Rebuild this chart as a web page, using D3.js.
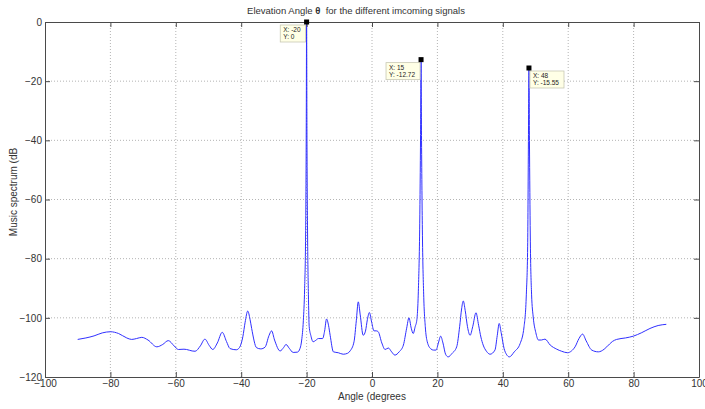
<!DOCTYPE html>
<html>
<head>
<meta charset="utf-8">
<script src="https://cdn.jsdelivr.net/npm/d3@7/dist/d3.min.js"></script>
<style>
  html, body { margin: 0; padding: 0; background: #fff; }
  svg { display: block; }
  text { font-family: "Liberation Sans", Arial, Helvetica, sans-serif; }
</style>
</head>
<body>
<svg id="chart" width="705" height="409"></svg>
<script>
// MUSIC pseudo-spectrum sampled over the scan angle (degrees) and level (dB)
const angles = [
  -90, -87.5, -85, -82.5, -80, -77.5, -75, -73.5, -72, -70.4, -68.5, -65.8, -64, -62.3,
  -60.5, -59.2, -57.5, -56.7, -55, -54.1, -52.5, -51.1, -49.8, -48.7, -47.3, -45.8, -44.5,
  -43.4, -41.5, -40.5, -39.5, -38.8, -38.0, -37.3, -36.8, -35.3, -34, -32.7, -31.5, -30.7,
  -29.8, -28.1, -27, -26.3, -25.3, -24.1, -22.8, -22, -21.5, -21.0, -20.6, -20.3, -20.1,
  -20, -19.9, -19.7, -19.45, -19.2, -18.7, -18.0, -17.2, -16.4, -15.1, -14.5, -13.9, -13.3,
  -12.8, -11.8, -10.3, -8.8, -7.5, -6.7, -5.5, -4.8, -4.2, -3.6, -2.7, -2.0, -1.4, -0.8,
  -0.1, 0.6, 1.3, 1.9, 3, 4.0, 5.0, 6, 7.0, 8.3, 9.6, 10.6, 11.3, 12, 12.6, 13.2, 13.7,
  14.2, 14.6, 14.85, 15, 15.15, 15.4, 15.8, 16.3, 16.9, 18, 18.8, 19.6, 20.3, 21.0, 21.7,
  22.5, 23.3, 24.5, 25.9, 26.8, 27.4, 27.9, 28.5, 29.2, 30.0, 30.8, 31.8, 32.6, 33.3, 34.0,
  35, 36.1, 37.6, 38.3, 38.9, 39.5, 40.4, 41.2, 42.0, 43.5, 45.3, 46.5, 47.2, 47.6, 47.85,
  48, 48.15, 48.4, 48.8, 49.3, 50.1, 50.9, 51.8, 52.9, 54.5, 56.5, 58, 59.8, 61, 62.1,
  63.3, 64.4, 65.5, 67.2, 69.2, 71, 71.8, 73.5, 74.8, 77.5, 79.9, 82.5, 85.0, 87.5, 90
];
const spectrum = [
  -107.3, -106.8, -106.1, -105.1, -104.7, -105.3, -106.8, -107.3, -107.0, -106.6, -107.5,
  -109.8, -109.0, -107.7, -109.5, -110.7, -110.6, -110.7, -111.2, -111.3, -109.5, -107.2,
  -109.3, -110.7, -108.5, -104.9, -108.0, -110.4, -110.8, -110.0, -106.4, -101.5, -97.7,
  -100.5, -103.6, -110.1, -110.5, -109.9, -106.0, -104.4, -107.5, -111.2, -110.0, -109.0,
  -110.3, -111.7, -111.6, -110.3, -107.5, -101, -90, -72, -34, 0, -36, -72, -92, -103,
  -106, -108.1, -107.6, -107.0, -107.0, -104.5, -100.4, -102.5, -105.9, -111.5, -111.8,
  -112.3, -112.0, -111.2, -108.1, -101, -94.6, -99, -105.9, -104.5, -100.5, -98.2, -101.5,
  -104.4, -104.4, -104.7, -108.5, -110.7, -110.2, -111.5, -112.6, -111.5, -109.2, -103.5,
  -100.0, -103.5, -105.3, -103, -100.8, -90, -68, -38, -12.72, -40, -70, -92, -103, -108.1,
  -110.5, -110.9, -110.9, -108.5, -106.2, -108.5, -112.3, -113.2, -112, -109.8, -103, -97,
  -94.3, -97.5, -103, -105.9, -103, -98.3, -102.5, -106.5, -109.2, -111.3, -112.3, -110.9,
  -106, -101.9, -105, -110.4, -112.5, -113.2, -111.5, -108.7, -103, -92, -76, -38, -15.55,
  -40, -72, -92, -99.7, -105, -107.5, -107.5, -107.2, -109.2, -110.6, -111.3, -111.8,
  -111.2, -109.8, -107, -105.5, -107.8, -110.9, -111.5, -110.6, -109.8, -108, -107.3,
  -106.8, -106.2, -105, -103.6, -102.6, -102.2
];

// Data tips placed on the three source directions
const tipAngles = [-20, 15, 48];
const tipValues = [0, -12.72, -15.55];
const tipLabelsX = ["-20", "15", "48"];
const tipLabelsY = ["0", "-12.72", "-15.55"];
const tipSide = ["left", "left", "right"];

const xTicks = [-100, -80, -60, -40, -20, 0, 20, 40, 60, 80, 100];
const yTicks = [0, -20, -40, -60, -80, -100, -120];

const titleParts = ["Elevation Angle ", "\u03B8", "  for the different imcoming signals"];
const xLabel = "Angle (degrees";
const yLabel = "Music spectrum (dB";

const W = 705, H = 409;
const m = { left: 45, right: 6, top: 22, bottom: 32 };
const svg = d3.select("#chart");

const x = d3.scaleLinear().domain([-100, 100]).range([m.left, W - m.right]);
const y = d3.scaleLinear().domain([-120, 0]).range([H - m.bottom, m.top]);

const axisColor = "#4a4a4a";
const textColor = "#333";

// dotted grid
const grid = svg.append("g");
grid.selectAll("line.gx").data(xTicks.slice(1, -1)).join("line")
  .attr("x1", d => x(d)).attr("x2", d => x(d))
  .attr("y1", m.top).attr("y2", H - m.bottom)
  .attr("stroke", "#b4b4b4").attr("stroke-width", 1).attr("stroke-dasharray", "1,2");
grid.selectAll("line.gy").data(yTicks.slice(1, -1)).join("line")
  .attr("y1", d => y(d)).attr("y2", d => y(d))
  .attr("x1", m.left).attr("x2", W - m.right)
  .attr("stroke", "#b4b4b4").attr("stroke-width", 1).attr("stroke-dasharray", "1,2");

// spectrum trace
const pts = angles.map((a, i) => [a, spectrum[i]]);
const line = d3.line().x(d => x(d[0])).y(d => y(d[1])).curve(d3.curveMonotoneX);
svg.append("path").datum(pts)
  .attr("d", line)
  .attr("fill", "none")
  .attr("stroke", "#2f2fff")
  .attr("stroke-width", 1);

// axes box with inward ticks on all four sides
const tickLen = 5;
function styleAxis(g) {
  g.select(".domain").attr("stroke", axisColor);
  g.selectAll(".tick line").attr("stroke", axisColor);
  g.selectAll(".tick text").attr("fill", textColor).attr("font-size", 10);
}
svg.append("g").attr("transform", `translate(0,${H - m.bottom})`)
  .call(d3.axisBottom(x).tickValues(xTicks).tickSizeInner(-tickLen).tickSizeOuter(0).tickPadding(3))
  .call(styleAxis);
svg.append("g").attr("transform", `translate(0,${m.top})`)
  .call(d3.axisTop(x).tickValues(xTicks).tickSizeInner(-tickLen).tickSizeOuter(0).tickFormat(""))
  .call(styleAxis);
svg.append("g").attr("transform", `translate(${m.left},0)`)
  .call(d3.axisLeft(y).tickValues(yTicks).tickSizeInner(-tickLen).tickSizeOuter(0).tickPadding(3))
  .call(styleAxis);
svg.append("g").attr("transform", `translate(${W - m.right},0)`)
  .call(d3.axisRight(y).tickValues(yTicks).tickSizeInner(-tickLen).tickSizeOuter(0).tickFormat(""))
  .call(styleAxis);
svg.selectAll("text").attr("font-family", "'Liberation Sans', Arial, sans-serif");

// titles
const title = svg.append("text").attr("x", 356).attr("y", 14)
  .attr("text-anchor", "middle").attr("font-size", 9.5).attr("fill", textColor);
title.selectAll("tspan").data(titleParts).join("tspan")
  .attr("font-weight", (d, i) => i === 1 ? "bold" : "normal")
  .style("white-space", "pre")
  .text(d => d);
svg.append("text").attr("x", (x(-100) + x(100)) / 2).attr("y", 400)
  .attr("text-anchor", "middle").attr("font-size", 10).attr("fill", textColor)
  .text(xLabel);
svg.append("text").attr("transform", "translate(17,192) rotate(-90)")
  .attr("text-anchor", "middle").attr("font-size", 10).attr("fill", textColor)
  .text(yLabel);

// data tips
const tips = svg.append("g");
tipAngles.forEach((a, i) => {
  const px = x(a), py = y(tipValues[i]);
  const t1 = "X: " + tipLabelsX[i], t2 = "Y: " + tipLabelsY[i];
  const g = tips.append("g");
  const fs = 6.5;
  const tmp1 = g.append("text").attr("font-size", fs).text(t1);
  const tmp2 = g.append("text").attr("font-size", fs).text(t2);
  const tw = Math.max(tmp1.node().getComputedTextLength(), tmp2.node().getComputedTextLength());
  tmp1.remove(); tmp2.remove();
  const bw = tw + 8, bh = 17;
  const bx = tipSide[i] === "left" ? px - bw - 1 : px + 1;
  const by = py + 3;
  g.append("rect").attr("x", bx).attr("y", by).attr("width", bw).attr("height", bh)
    .attr("fill", "#ffffe6").attr("stroke", "#c8c8b4").attr("stroke-width", 0.8);
  g.append("text").attr("x", bx + 3).attr("y", by + 7).attr("font-size", fs).attr("fill", "#222").text(t1);
  g.append("text").attr("x", bx + 3).attr("y", by + 14).attr("font-size", fs).attr("fill", "#222").text(t2);
  g.append("rect").attr("x", px - 2.5).attr("y", py - 2.5).attr("width", 5).attr("height", 5)
    .attr("fill", "#000");
});
</script>
</body>
</html>
